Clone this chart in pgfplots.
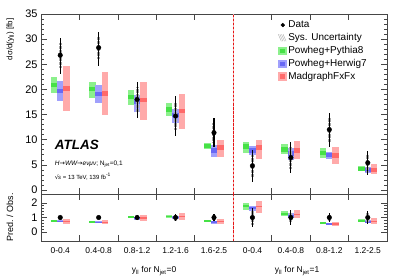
\documentclass[border=0pt]{standalone}
\usepackage{pgfplots}
\pgfplotsset{compat=1.18}
\usepackage{fontspec}
\setmainfont{Liberation Sans}
\newfontfamily\djv{DejaVu Sans}
\definecolor{gband}{RGB}{140,240,140}
\definecolor{gcent}{RGB}{70,225,70}
\definecolor{bband}{RGB}{160,160,252}
\definecolor{bcent}{RGB}{105,105,245}
\definecolor{rband}{RGB}{255,170,170}
\definecolor{rcent}{RGB}{255,105,105}
\definecolor{axgray}{RGB}{70,70,70}
\definecolor{vred}{RGB}{230,20,20}
\definecolor{vpink}{RGB}{245,170,170}
\pgfplotsset{
  boxes/.style={draw=none, mark=none, forget plot,
    error bars/.cd, y dir=both, y explicit, error mark=none,
    error bar style={line width=6.5bp, draw=#1}},
  databars/.style={only marks, mark=*, mark size=2.3bp, black, forget plot,
    error bars/.cd, y dir=both, y explicit, error mark=none,
    error bar style={line width=1.2bp, black}},
  sysbars/.style={draw=none, mark=none, forget plot,
    error bars/.cd, y dir=both, y explicit, error mark=none,
    error bar style={line width=3bp, draw=gray!70, dash pattern=on 0.5bp off 0.8bp}},
  common/.style={scale only axis, width=346bp, xmin=0, xmax=9,
    axis line style={line width=0.8bp, axgray},
    tick style={line width=0.6bp, axgray},
    tick align=inside,
    major tick length=6bp, minor tick length=3bp,
    /pgf/number format/assume math mode=true,
    yticklabel style={font=\fontsize{11}{12}\selectfont},
    xticklabel style={font=\fontsize{8.5}{10}\selectfont},
  },
  sqimg/.style 2 args={legend image code/.code={
    \fill[#1] (0bp,-3.8bp) rectangle (7.5bp,3.8bp);
    \fill[#2] (1.5bp,-1.8bp) rectangle (6bp,1.8bp);}},
}
\begin{document}
\begin{tikzpicture}
\begin{axis}[common, name=main, height=180bp,
  ymin=-0.8, ymax=35, ytick={0,5,...,35}, minor y tick num=4,
  xtick={1,...,8}, xticklabels={},
  legend style={draw=none, fill=none, at={(0.676,0.985)}, anchor=north west,
    font=\fontsize{10}{11}\selectfont, row sep=0.2bp,
    /tikz/every even column/.append style={column sep=1bp}},
  legend cell align=left,
]
\addlegendimage{legend image code/.code={\fill[black] (4.5bp,0bp) circle (1.9bp);}}
\addlegendentry{Data}
\addlegendimage{legend image code/.code={
  \foreach \i in {0,1.6,3.2,4.8}{\draw[gray!60, line width=0.45bp] (\i bp,3.5bp) -- (\i bp+3bp,-3.5bp);}}}
\addlegendentry{Sys. Uncertainty}
\addlegendimage{sqimg={gband}{gcent}}
\addlegendentry{Powheg+Pythia8}
\addlegendimage{sqimg={bband}{bcent}}
\addlegendentry{Powheg+Herwig7}
\addlegendimage{sqimg={rband}{rcent}}
\addlegendentry{MadgraphFxFx}
\fill[vpink] (axis cs:4.985,-0.8) rectangle (axis cs:5.015,35);
\pgfplotsinvokeforeach{0,...,44}{\fill[vred] (axis cs:4.985,{-0.8+0.8*#1}) rectangle (axis cs:5.015,{-0.35+0.8*#1});}
% green bands
\addplot[boxes=gband] coordinates {
(0.335,20.8) +- (0,1.6) (1.335,19.9) +- (0,1.6) (2.335,18.45) +- (0,1.45)
(3.335,15.95) +- (0,1.25) (4.335,8.75) +- (0,0.65) (5.335,8.5) +- (0,1.1)
(6.335,8.1) +- (0,1.0) (7.335,7.35) +- (0,0.9) (8.335,4.25) +- (0,0.55)};
\addplot[boxes=gcent] coordinates {
(0.335,20.9) +- (0,0.45) (1.335,20.1) +- (0,0.45) (2.335,18.5) +- (0,0.45)
(3.335,16.0) +- (0,0.45) (4.335,8.8) +- (0,0.4) (5.335,8.6) +- (0,0.45)
(6.335,8.05) +- (0,0.45) (7.335,7.4) +- (0,0.45) (8.335,4.25) +- (0,0.4)};
% blue bands
\addplot[boxes=bband] coordinates {
(0.5,19.7) +- (0,2.0) (1.5,19.05) +- (0,1.85) (2.5,17.2) +- (0,1.7)
(3.5,14.75) +- (0,1.45) (4.5,7.8) +- (0,1.2) (5.5,7.8) +- (0,0.9)
(6.5,7.15) +- (0,1.1) (7.5,6.9) +- (0,0.7) (8.5,4.0) +- (0,0.6)};
\addplot[boxes=bcent] coordinates {
(0.5,19.7) +- (0,0.45) (1.5,19.1) +- (0,0.45) (2.5,17.6) +- (0,0.45)
(3.5,14.9) +- (0,0.45) (4.5,7.9) +- (0,0.45) (5.5,7.9) +- (0,0.45)
(6.5,7.25) +- (0,0.45) (7.5,6.9) +- (0,0.4) (8.5,3.9) +- (0,0.4)};
% red bands
\addplot[boxes=rband] coordinates {
(0.665,20.15) +- (0,4.45) (1.665,19.2) +- (0,4.3) (2.665,17.7) +- (0,3.8)
(3.665,15.6) +- (0,3.4) (4.665,8.2) +- (0,1.7) (5.665,8.1) +- (0,1.9)
(6.665,7.9) +- (0,1.8) (7.665,6.9) +- (0,1.7) (8.665,4.1) +- (0,1.0)};
\addplot[boxes=rcent] coordinates {
(0.665,20.2) +- (0,0.45) (1.665,19.2) +- (0,0.45) (2.665,17.9) +- (0,0.45)
(3.665,15.7) +- (0,0.45) (4.665,8.4) +- (0,0.45) (5.665,8.4) +- (0,0.45)
(6.665,7.9) +- (0,0.45) (7.665,6.9) +- (0,0.45) (8.665,4.0) +- (0,0.45)};
% sys
\addplot[sysbars] coordinates {
(0.5,26.8) +- (0,2.5) (1.5,28.3) +- (0,2.3) (2.5,18.0) +- (0,2.5)
(3.5,14.7) +- (0,2.8) (4.5,11.4) +- (0,2.0) (5.5,4.8) +- (0,2.2)
(6.5,6.45) +- (0,2.2) (7.5,12.0) +- (0,2.4) (8.5,5.4) +- (0,1.7)};
% data
\addplot[databars] coordinates {
(0.5,26.8) += (0,3.5) -= (0,3.8) (1.5,28.3) += (0,3.2) -= (0,3.6)
(2.5,18.0) += (0,3.5) -= (0,3.7) (3.5,14.7) += (0,4.0) -= (0,3.9)
(4.5,11.4) += (0,2.9) -= (0,2.8) (5.5,4.8) += (0,3.1) -= (0,3.2)
(6.5,6.45) += (0,3.15) -= (0,3.15) (7.5,12.0) += (0,3.4) -= (0,3.4)
(8.5,5.4) += (0,2.4) -= (0,2.5)};
\node[anchor=west, font=\fontsize{13.5}{14}\selectfont\bfseries\itshape] at (axis cs:0.27,9.0) {ATLAS};
\node[anchor=west, font=\fontsize{6.5}{7}\selectfont] at (axis cs:0.27,5.2) {\textit{H{\djv→}WW{\djv→}eνμν}; N\textsubscript{jet}=0,1};
\node[anchor=west, font=\fontsize{6}{7}\selectfont] at (axis cs:0.27,2.6) {{\djv√}\kern-0.5pt\textit{s} = 13 TeV, 139 fb\textsuperscript{-1}};
\end{axis}
\begin{axis}[common, name=ratio, at={(main.south west)}, anchor=north west, height=47bp,
  ymin=-0.6, ymax=2.6, ytick={0,1,2}, minor y tick num=4,
  xtick={1,...,8}, xticklabels={},
  extra x ticks={0.5,1.5,...,8.5},
  extra x tick labels={0-0.4,0.4-0.8,0.8-1.2,1.2-1.6,1.6-2.5,0-0.4,0.4-0.8,0.8-1.2,1.2-2.5},
  extra x tick style={major tick length=0pt, xticklabel style={yshift=-3bp}},
]
\fill[vpink] (axis cs:4.985,-0.6) rectangle (axis cs:5.015,2.6);
\pgfplotsinvokeforeach{0,...,11}{\fill[vred] (axis cs:4.985,{-0.6+0.28*#1}) rectangle (axis cs:5.015,{-0.44+0.28*#1});}
\addplot[boxes=gband] coordinates {
(0.335,0.776) +- (0,0.06) (1.335,0.703) +- (0,0.057) (2.335,1.025) +- (0,0.08)
(3.335,1.085) +- (0,0.085) (4.335,0.77) +- (0,0.057) (5.335,1.77) +- (0,0.23)
(6.335,1.256) +- (0,0.155) (7.335,0.61) +- (0,0.075) (8.335,0.79) +- (0,0.10)};
\addplot[boxes=gcent] coordinates {
(0.335,0.78) +- (0,0.04) (1.335,0.71) +- (0,0.04) (2.335,1.03) +- (0,0.04)
(3.335,1.09) +- (0,0.04) (4.335,0.77) +- (0,0.04) (5.335,1.79) +- (0,0.04)
(6.335,1.25) +- (0,0.04) (7.335,0.62) +- (0,0.04) (8.335,0.79) +- (0,0.04)};
\addplot[boxes=bband] coordinates {
(0.5,0.735) +- (0,0.075) (1.5,0.673) +- (0,0.065) (2.5,0.955) +- (0,0.094)
(3.5,1.0) +- (0,0.1) (4.5,0.684) +- (0,0.105) (5.5,1.625) +- (0,0.19)
(6.5,1.11) +- (0,0.17) (7.5,0.575) +- (0,0.058) (8.5,0.74) +- (0,0.11)};
\addplot[boxes=bcent] coordinates {
(0.5,0.735) +- (0,0.04) (1.5,0.675) +- (0,0.04) (2.5,0.98) +- (0,0.04)
(3.5,1.01) +- (0,0.04) (4.5,0.69) +- (0,0.04) (5.5,1.65) +- (0,0.04)
(6.5,1.12) +- (0,0.04) (7.5,0.575) +- (0,0.04) (8.5,0.72) +- (0,0.04)};
\addplot[boxes=rband] coordinates {
(0.665,0.752) +- (0,0.166) (1.665,0.678) +- (0,0.152) (2.665,0.983) +- (0,0.21)
(3.665,1.06) +- (0,0.23) (4.665,0.72) +- (0,0.15) (5.665,1.69) +- (0,0.40)
(6.665,1.22) +- (0,0.28) (7.665,0.575) +- (0,0.14) (8.665,0.76) +- (0,0.185)};
\addplot[boxes=rcent] coordinates {
(0.665,0.754) +- (0,0.04) (1.665,0.678) +- (0,0.04) (2.665,0.99) +- (0,0.04)
(3.665,1.07) +- (0,0.04) (4.665,0.74) +- (0,0.04) (5.665,1.75) +- (0,0.04)
(6.665,1.22) +- (0,0.04) (7.665,0.575) +- (0,0.04) (8.665,0.74) +- (0,0.04)};
\addplot[sysbars] coordinates {
(0.5,1) +- (0,0.095) (1.5,1) +- (0,0.085) (2.5,1) +- (0,0.14)
(3.5,1) +- (0,0.19) (4.5,1) +- (0,0.175) (5.5,1) +- (0,0.46)
(6.5,1) +- (0,0.34) (7.5,1) +- (0,0.2) (8.5,1) +- (0,0.31)};
\addplot[databars] coordinates {
(0.5,1) +- (0,0.135) (1.5,1) +- (0,0.12) (2.5,1) +- (0,0.2)
(3.5,1) +- (0,0.27) (4.5,1) +- (0,0.25) (5.5,1) +- (0,0.66)
(6.5,1) +- (0,0.49) (7.5,1) +- (0,0.28) (8.5,1) +- (0,0.45)};
\end{axis}
\node[rotate=90, anchor=north east, font=\fontsize{8}{9}\selectfont] at ([xshift=-38bp,yshift=-1bp]main.north west) {dσ/d(y\textsubscript{ll}) [fb]};
\node[rotate=90, anchor=north, font=\fontsize{9}{10}\selectfont] at ([xshift=-38bp]ratio.west) {Pred. / Obs.};
\node[font=\fontsize{8.5}{10}\selectfont] at ([xshift=113bp,yshift=-30bp]ratio.south west) {y\textsubscript{ll} for N\textsubscript{jet}=0};
\node[font=\fontsize{8.5}{10}\selectfont] at ([xshift=256bp,yshift=-30bp]ratio.south west) {y\textsubscript{ll} for N\textsubscript{jet}=1};
\pgfresetboundingbox
\path[use as bounding box] ([shift={(-41bp,14bp)}]main.north west) rectangle ([shift={(366bp,-264bp)}]main.north west);
\end{tikzpicture}
\end{document}
